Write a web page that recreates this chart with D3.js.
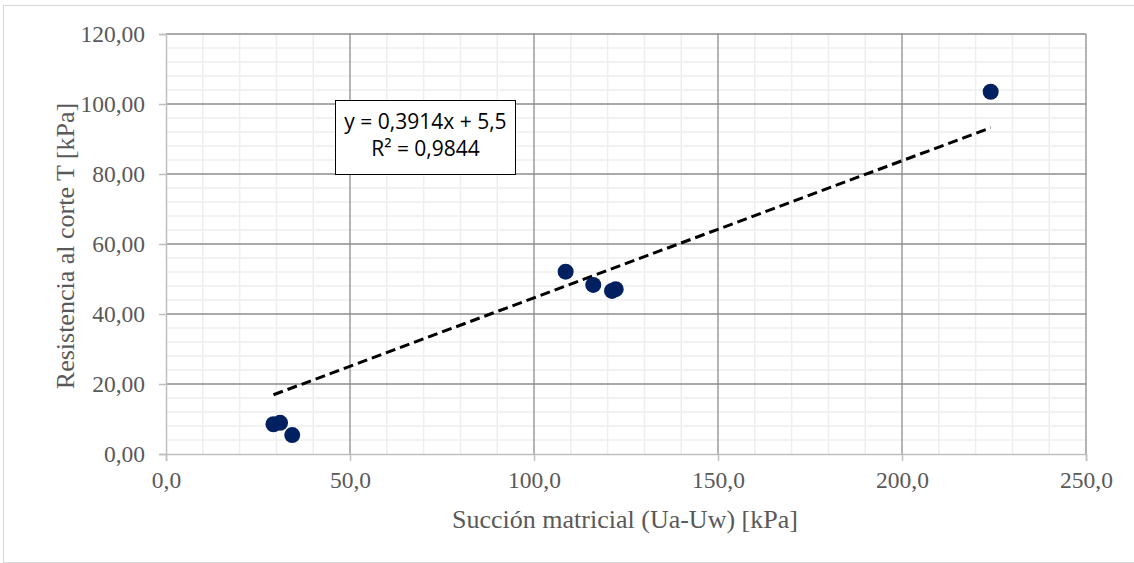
<!DOCTYPE html>
<html>
<head>
<meta charset="utf-8">
<script src="https://cdn.jsdelivr.net/npm/d3@7"></script>
<style>
  body { margin: 0; background: #fff; }
  svg { display: block; }
</style>
</head>
<body>
<svg id="chart" width="1134" height="563"></svg>
<script>
// measured points
const suction = [29.2, 31.0, 34.3, 108.6, 116.1, 121.2, 122.2, 224.1];
const shear = [8.5, 8.9, 5.4, 52.1, 48.3, 46.6, 47.1, 103.5];
const xTicks = [0, 50, 100, 150, 200, 250];
const yTicks = [0, 20, 40, 60, 80, 100, 120];
const slope = 0.3914, intercept = 5.5;
const eqLines = ['y = 0,3914x + 5,5', 'R² = 0,9844'];

const margin = { top: 34, right: 48, bottom: 109, left: 166 };
const W = 1134, H = 563;
const width = W - margin.left - margin.right;
const height = H - margin.top - margin.bottom;
const serif = '"Liberation Serif", "Times New Roman", serif';

const svg = d3.select('#chart');

// chart frame
svg.append('rect')
    .attr('x', 3.5).attr('y', 5.5)
    .attr('width', 1200).attr('height', 557)
    .attr('fill', 'none').attr('stroke', '#d9d9d9');

const g = svg.append('g')
    .attr('transform', 'translate(' + margin.left + ',' + margin.top + ')');

const x = d3.scaleLinear().domain([0, 250]).range([0, width]);
const y = d3.scaleLinear().domain([0, 120]).range([height, 0]);

const fmt = (d, n) => d.toFixed(n).replace('.', ',');

// minor grid
g.append('g').selectAll('line')
    .data(d3.range(0, 251, 10).filter(v => v % 50 !== 0))
    .join('line')
    .attr('x1', d => x(d)).attr('x2', d => x(d))
    .attr('y1', 0).attr('y2', height)
    .attr('stroke', '#eeeeee').attr('stroke-width', 1.5);
g.append('g').selectAll('line')
    .data(d3.range(0, 121, 4).filter(v => v % 20 !== 0))
    .join('line')
    .attr('y1', d => y(d)).attr('y2', d => y(d))
    .attr('x1', 0).attr('x2', width)
    .attr('stroke', '#eeeeee').attr('stroke-width', 1.5);

// major grid
g.append('g').selectAll('line')
    .data(xTicks.slice(1))
    .join('line')
    .attr('x1', d => x(d)).attr('x2', d => x(d))
    .attr('y1', 0).attr('y2', height)
    .attr('stroke', '#8c8c8c').attr('stroke-width', 1.3);
g.append('g').selectAll('line')
    .data(yTicks.slice(1))
    .join('line')
    .attr('y1', d => y(d)).attr('y2', d => y(d))
    .attr('x1', 0).attr('x2', width)
    .attr('stroke', '#8c8c8c').attr('stroke-width', 1.3);

// axes
const xAxis = d3.axisBottom(x).tickValues(xTicks).tickSize(7).tickPadding(10)
    .tickFormat(d => fmt(d, 1));
const yAxis = d3.axisLeft(y).tickValues(yTicks).tickSize(7).tickPadding(14)
    .tickFormat(d => fmt(d, 2));

const gx = g.append('g')
    .attr('transform', 'translate(0,' + height + ')')
    .call(xAxis);
const gy = g.append('g').call(yAxis);

[gx, gy].forEach(a => {
    a.select('.domain').attr('stroke', '#bfbfbf').attr('stroke-width', 1.5);
    a.selectAll('.tick line').attr('stroke', '#bfbfbf').attr('stroke-width', 1.5);
    a.selectAll('.tick text')
        .attr('fill', '#595959')
        .style('font-family', serif)
        .style('font-size', '23.5px');
});

// trendline
const xMin = d3.min(suction), xMax = d3.max(suction);
g.append('line')
    .attr('x1', x(xMin)).attr('y1', y(slope * xMin + intercept))
    .attr('x2', x(xMax)).attr('y2', y(slope * xMax + intercept))
    .attr('stroke', '#000').attr('stroke-width', 3)
    .attr('stroke-dasharray', '10,5');

// points
g.append('g').selectAll('circle')
    .data(suction.map((v, i) => [v, shear[i]]))
    .join('circle')
    .attr('cx', d => x(d[0])).attr('cy', d => y(d[1]))
    .attr('r', 8)
    .attr('fill', '#002060');

// equation box
const box = svg.append('g');
box.append('rect')
    .attr('x', 335.5).attr('y', 100.5)
    .attr('width', 180).attr('height', 74)
    .attr('fill', '#fff').attr('stroke', '#000').attr('stroke-width', 1);
box.selectAll('text')
    .data(eqLines)
    .join('text')
    .attr('x', 425.5)
    .attr('y', (d, i) => 129 + i * 27)
    .attr('text-anchor', 'middle')
    .style('font-family', '"Open Sans", "Liberation Sans", sans-serif')
    .style('font-size', '21px')
    .attr('fill', '#000')
    .text(d => d);

// axis titles
svg.append('text')
    .attr('x', 625)
    .attr('y', 528)
    .attr('text-anchor', 'middle')
    .attr('fill', '#595959')
    .style('font-family', serif)
    .style('font-size', '26px')
    .text('Succión matricial (Ua-Uw) [kPa]');

svg.append('text')
    .attr('transform', 'translate(74,246) rotate(-90)')
    .attr('text-anchor', 'middle')
    .attr('fill', '#595959')
    .style('font-family', serif)
    .style('font-size', '26px')
    .text('Resistencia al corte T [kPa]');
</script>
</body>
</html>
